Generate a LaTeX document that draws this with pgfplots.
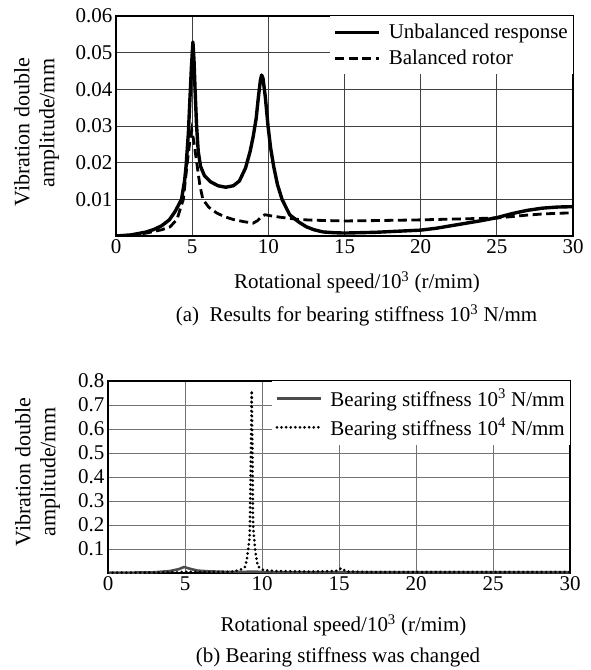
\documentclass[border=0pt]{standalone}
\usepackage{pgfplots}
\pgfplotsset{compat=1.18}
\usepackage{fontspec}
\setmainfont{Liberation Serif}
\newcommand{\fs}{\fontsize{21}{24}\selectfont}
\pgfplotsset{
  mystyle/.style={
    scale only axis, anchor=south west,
    xmin=0, xmax=30, ymin=0,
    xtick={0,5,...,30},
    grid=major,
    axis line style={line width=1.3pt},
    major tick length=0pt,
    tick label style={font=\fs},
    /pgf/number format/assume math mode=true,
    scaled y ticks=false,
    legend cell align=left,
    legend style={at={(1,1)}, anchor=north east, draw=none, fill=white,
      font=\fs, row sep=6pt, inner xsep=3pt, inner ysep=6pt,
      /tikz/every odd column/.append style={column sep=6pt}},
    legend image code/.code={\draw[#1] (0pt,0pt) -- (44pt,0pt);},
  }
}
\begin{document}
\begin{tikzpicture}
\useasboundingbox (0pt,0pt) rectangle (590pt,670pt);
% ---------- (a) ----------
\begin{axis}[mystyle,
  at={(116pt,434pt)}, width=457pt, height=220pt,
  ymax=0.06, ytick={0.01,0.02,0.03,0.04,0.05,0.06},
  yticklabel style={/pgf/number format/.cd, fixed, fixed zerofill, precision=2},
  major grid style={black!75, line width=0.9pt},
]
\addplot[black, line width=3.4pt, line join=round] coordinates {
(0,0) (1,0.0003) (2,0.0011) (2.5,0.0018) (3,0.0028) (3.5,0.0044) (3.9,0.0068)
(4.3,0.010) (4.5,0.015) (4.6,0.019) (4.75,0.028) (4.86,0.038) (4.95,0.046)
(5.05,0.0529) (5.12,0.048) (5.19,0.040) (5.29,0.030) (5.4,0.023) (5.55,0.019)
(5.8,0.0165) (6.2,0.0148) (6.7,0.0137) (7.2,0.0133) (7.7,0.0137) (8.1,0.015)
(8.5,0.0185) (8.8,0.023) (9.0,0.027) (9.2,0.032) (9.35,0.038) (9.48,0.0425)
(9.56,0.0439) (9.65,0.043) (9.8,0.038) (9.98,0.030) (10.15,0.024) (10.35,0.019)
(10.6,0.014) (10.9,0.010) (11.4,0.0058) (12,0.0038) (12.5,0.0025) (13,0.0017)
(13.6,0.0011) (14.3,0.0009) (15,0.0008) (16,0.0009) (17,0.0010) (18,0.0012)
(19,0.0014) (20,0.0016) (21,0.0021) (22,0.0028) (23,0.0035) (24,0.0042)
(25,0.0050) (26,0.0061) (27,0.0070) (28,0.0076) (29,0.0079) (30,0.0080)
};
\addlegendentry{Unbalanced response}
\addplot[black, line width=2.8pt, dash pattern=on 9pt off 4.5pt] coordinates {
(0,0) (1,0.0002) (2,0.0008) (3,0.0017) (3.55,0.0025) (4.0,0.0045) (4.42,0.010)
(4.68,0.020) (4.85,0.026) (4.97,0.0289) (5.1,0.026) (5.3,0.020) (5.5,0.014)
(5.7,0.010) (6.1,0.0078) (6.6,0.0063) (7.1,0.0053) (7.7,0.0045) (8.4,0.0039)
(9.0,0.0035) (9.3,0.0042) (9.55,0.0053) (9.78,0.0058) (10.3,0.0054) (11,0.0050)
(12,0.0045) (13,0.0043) (15,0.0041) (17,0.0042) (20,0.0044) (22,0.0046)
(24,0.0048) (25,0.0049) (26,0.0053) (27,0.0057) (28,0.0060) (29,0.0062) (30,0.0063)
};
\addlegendentry{Balanced rotor}
\end{axis}
\node[rotate=90, font=\fontsize{22}{24}\selectfont] at (22pt,538pt) {Vibration double};
\node[rotate=90, font=\fontsize{22}{24}\selectfont] at (49pt,547pt) {amplitude/mm};
\node[font=\fs, anchor=base] at (357pt,381pt) {Rotational speed/10\textsuperscript{3} (r/mim)};
\node[font=\fs, anchor=base] at (356.5pt,348pt) {(a)\ \ Results for bearing stiffness 10\textsuperscript{3} N/mm};
% ---------- (b) ----------
\begin{axis}[mystyle,
  at={(108pt,97pt)}, width=462pt, height=192pt,
  ymax=0.8, ytick={0.1,0.2,0.3,0.4,0.5,0.6,0.7,0.8},
  yticklabel style={/pgf/number format/.cd, fixed, fixed zerofill, precision=1},
  major grid style={black!55, line width=0.9pt},
]
\addplot[black!70, line width=2.6pt, line join=round] coordinates {
(0,0.001) (2,0.002) (3,0.003) (4,0.008) (4.6,0.016) (4.94,0.025) (5.3,0.018)
(5.8,0.010) (6.5,0.007) (7.5,0.005) (9,0.005) (9.5,0.006) (10,0.004) (11,0.003)
(13,0.003) (15,0.003) (20,0.003) (25,0.003) (30,0.003)
};
\addlegendentry{Bearing stiffness 10\textsuperscript{3} N/mm}
\addplot[black, line width=3pt, line cap=round, dash pattern=on 0pt off 4.6pt] coordinates {
(0,0.001) (3,0.002) (4.5,0.003) (5,0.005) (6,0.004) (7,0.004) (8,0.005)
(8.57,0.012) (8.9,0.026) (9.0,0.05) (9.11,0.1) (9.2,0.15) (9.26,0.4) (9.3,0.6)
(9.33,0.76) (9.38,0.5) (9.42,0.2) (9.55,0.1) (9.66,0.05) (9.76,0.026) (10.1,0.012)
(11,0.008) (13,0.006) (14.8,0.008) (15.15,0.02) (15.5,0.006) (17,0.004) (20,0.004)
(25,0.004) (30,0.004)
};
\addlegendentry{Bearing stiffness 10\textsuperscript{4} N/mm}
\end{axis}
\node[rotate=90, font=\fontsize{22}{24}\selectfont] at (23pt,198pt) {Vibration double};
\node[rotate=90, font=\fontsize{22}{24}\selectfont] at (50pt,198pt) {amplitude/mm};
\node[font=\fs, anchor=base] at (343.5pt,38pt) {Rotational speed/10\textsuperscript{3} (r/mim)};
\node[font=\fs, anchor=base] at (338pt,7pt) {(b) Bearing stiffness was changed};
\end{tikzpicture}
\end{document}
